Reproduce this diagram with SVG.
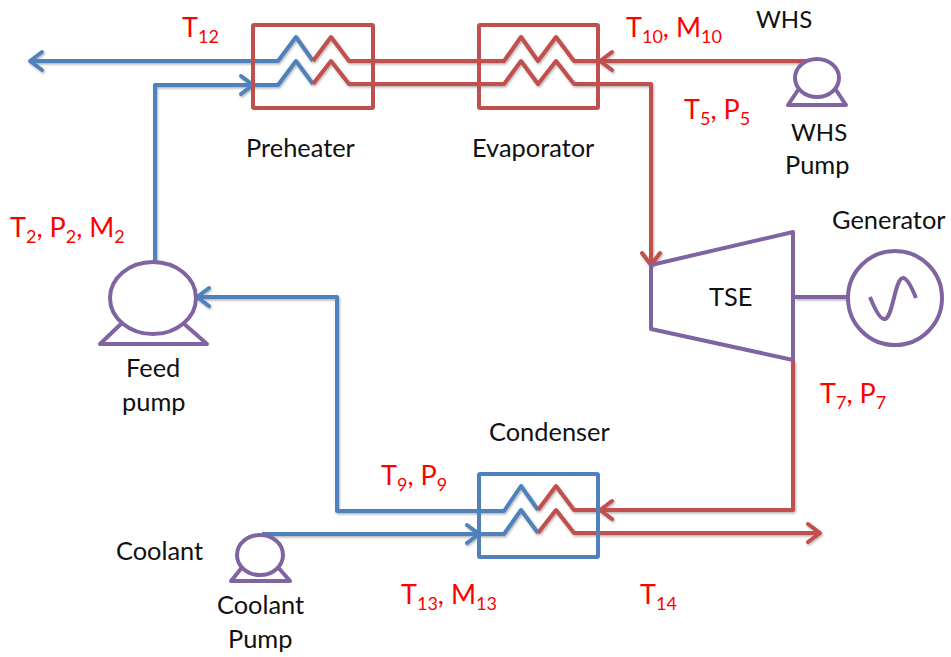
<svg xmlns="http://www.w3.org/2000/svg" width="951" height="657" viewBox="0 0 951 657">
<style>
.l{fill:none;stroke-width:4;stroke-linejoin:round;stroke-linecap:butt}
.b{stroke:#4f81bd}.r{stroke:#c0504d}.p{stroke:#8064a2}
.w{fill:#fff;stroke-width:4;stroke-linejoin:round}
text{font-family:"Lato","Liberation Sans",sans-serif;font-size:25.4px;fill:#111}
.t{fill:#ff0000;font-size:27px}
.t tspan{font-size:18px}
.t tspan.m{font-size:27px}
</style>
<defs>
<path id="ah" d="M-12,-9 L0,0 L-12,9" fill="none" stroke-width="4" stroke-linecap="round" stroke-linejoin="round"/>
<filter id="sh" x="-5%" y="-5%" width="110%" height="110%"><feDropShadow dx="1" dy="1.5" stdDeviation="1" flood-color="#000" flood-opacity="0.3"/></filter>
</defs>
<rect width="951" height="657" fill="#fff"/>
<g id="connectors" filter="url(#sh)">
<path class="l b" d="M30,61H278L296,37L313,61"/>
<path class="l b" d="M155,262V85H278L296,61L313,84"/>
<path class="l r" d="M313,61L331,37L349,61H504L521,37L538,61L556,37L574,61H820"/>
<path class="l r" d="M313,84L331,61L349,84H504L521,61L538,84L556,61L574,84H651V265"/>
<path class="l b" d="M197,297H337V511H504L521,486L538,510"/>
<path class="l b" d="M262,534H504L521,510L538,533"/>
<path class="l r" d="M538,510L556,486L574,510H793V360"/>
<path class="l r" d="M538,533L556,510L574,533H820"/>
<path class="l p" d="M795,297H848"/>
<use href="#ah" class="b" transform="translate(30,61) rotate(180)"/>
<use href="#ah" class="b" transform="translate(253,85)"/>
<use href="#ah" class="r" transform="translate(600,61) rotate(180)"/>
<use href="#ah" class="r" transform="translate(651,265) rotate(90)"/>
<use href="#ah" class="b" transform="translate(197,297) rotate(180)"/>
<use href="#ah" class="r" transform="translate(600,510) rotate(180)"/>
<use href="#ah" class="b" transform="translate(479,534)"/>
<use href="#ah" class="r" transform="translate(820,533)"/>
</g>
<g id="preheater"><rect class="l r" x="253" y="25" width="120" height="83" rx="1"/><text x="246" y="157">Preheater</text></g>
<g id="evaporator"><rect class="l r" x="479" y="25" width="119" height="83" rx="1"/><text x="472" y="157">Evaporator</text></g>
<g id="condenser"><rect class="l b" x="479" y="474" width="119" height="83" rx="1"/><text x="489" y="441">Condenser</text></g>
<g id="whs-pump">
<path class="l p" d="M802,84L788,105H846L832,84"/>
<ellipse class="w p" cx="817" cy="78" rx="22" ry="19"/>
<text x="791" y="141" style="font-size:24px">WHS</text><text x="785" y="174">Pump</text>
</g>
<g id="whs"><text x="756" y="28" style="font-size:24px">WHS</text></g>
<g id="feed-pump">
<path class="l p" d="M123,322L100,344H207L182,322"/>
<ellipse class="w p" cx="153" cy="298" rx="43" ry="36"/>
<text x="126" y="377">Feed</text><text x="122" y="411">pump</text>
</g>
<g id="coolant-pump">
<path class="l p" d="M244,565L231,581H290L276,565"/>
<ellipse class="w p" cx="260" cy="555" rx="23" ry="20"/>
<text x="217" y="614">Coolant</text><text x="228" y="648">Pump</text>
</g>
<g id="coolant"><text x="116" y="560">Coolant</text></g>
<g id="tse">
<path class="l p" d="M651,265L793,232V360L651,329Z"/>
<text x="709" y="306">TSE</text>
</g>
<g id="generator">
<circle class="w p" cx="895" cy="298" r="47"/>
<path class="l p" d="M870,297C876,312 881,320 885,319C893,317 895,278 903,278C907,278 912,288 916,298" stroke-linecap="round"/>
<text x="832" y="229">Generator</text>
</g>
<g id="labels">
<text class="t" x="182" y="37">T<tspan dy="6">12</tspan></text>
<text class="t" x="626" y="37">T<tspan dy="6">10</tspan><tspan class="m" dy="-6">, M</tspan><tspan dy="6">10</tspan></text>
<text class="t" x="684" y="119">T<tspan dy="6">5</tspan><tspan class="m" dy="-6">, P</tspan><tspan dy="6">5</tspan></text>
<text class="t" x="10" y="237">T<tspan dy="6">2</tspan><tspan class="m" dy="-6">, P</tspan><tspan dy="6">2</tspan><tspan class="m" dy="-6">, M</tspan><tspan dy="6">2</tspan></text>
<text class="t" x="820" y="403">T<tspan dy="6">7</tspan><tspan class="m" dy="-6">, P</tspan><tspan dy="6">7</tspan></text>
<text class="t" x="381" y="485">T<tspan dy="6">9</tspan><tspan class="m" dy="-6">, P</tspan><tspan dy="6">9</tspan></text>
<text class="t" x="401" y="604">T<tspan dy="6">13</tspan><tspan class="m" dy="-6">, M</tspan><tspan dy="6">13</tspan></text>
<text class="t" x="640" y="604">T<tspan dy="6">14</tspan></text>
</g>
</svg>
